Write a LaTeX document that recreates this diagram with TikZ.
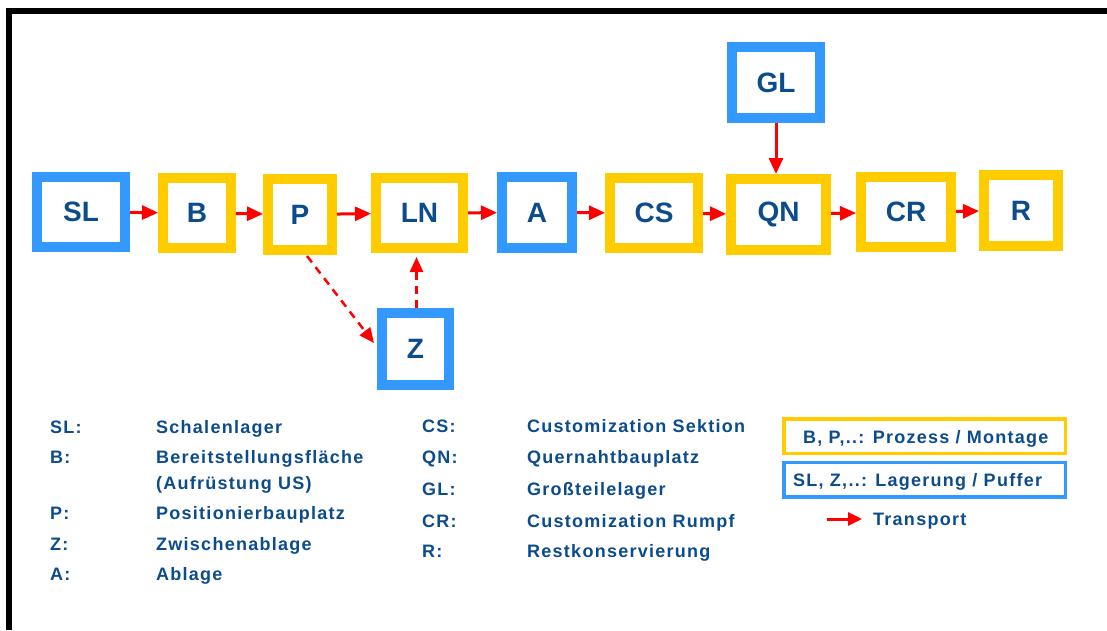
\documentclass[tikz,border=0pt]{standalone}
\usepackage{fontspec}
\setmainfont{Liberation Sans}
\newfontfamily\lgfont[LetterSpace=7]{Liberation Sans}
\usetikzlibrary{arrows.meta,calc}
\definecolor{txtblue}{RGB}{12,76,140}
\definecolor{boxblue}{RGB}{51,153,255}
\definecolor{boxyellow}{RGB}{255,204,0}
\definecolor{arrred}{RGB}{255,0,0}
\tikzset{
  stbox/.style={draw, line width=10pt, inner sep=0pt, text=txtblue,
    font=\fontsize{28}{30}\selectfont\bfseries},
  ybox/.style={stbox, draw=boxyellow},
  bbox/.style={stbox, draw=boxblue},
  flow/.style={draw=arrred, line width=3pt, -{Triangle[length=16pt,width=14pt]}},
  dflow/.style={draw=arrred, line width=2.5pt, dash pattern=on 8pt off 6pt,
    -{Triangle[length=15pt,width=13pt]}},
  lg/.style={anchor=base west, inner sep=0pt, text=txtblue,
    font=\lgfont\fontsize{18}{20}\selectfont\bfseries},
  lgbox/.style={draw, line width=3.5pt, inner sep=0pt, minimum width=281.5pt, minimum height=34.5pt}
}
\begin{document}
\begin{tikzpicture}[x=1pt,y=-1pt]
\useasboundingbox (0,0) rectangle (1107,630);
\fill[white] (0,0) rectangle (1107,630);
\draw[line width=6pt] (9,630) -- (9,11) -- (1107,11);

% process chain
\node[bbox, minimum width=88pt, minimum height=70pt] (SL) at (81,212) {SL};
\node[ybox, minimum width=68pt, minimum height=70pt] (B) at (197,213) {B};
\node[ybox, minimum width=64pt, minimum height=71pt] (P) at (300,214.5) {P};
\node[ybox, minimum width=87pt, minimum height=70pt] (LN) at (419.5,213) {LN};
\node[bbox, minimum width=70pt, minimum height=71pt] (A) at (537,212.5) {A};
\node[ybox, minimum width=88pt, minimum height=70pt] (CS) at (654,213) {CS};
\node[ybox, minimum width=95pt, minimum height=71pt] (QN) at (778.5,214.5) {QN};
\node[ybox, minimum width=90pt, minimum height=70pt] (CR) at (906,212) {CR};
\node[ybox, minimum width=74pt, minimum height=71pt] (R) at (1021,210.5) {R};
\node[bbox, minimum width=88pt, minimum height=71pt] (GL) at (776,82.5) {GL};
\node[bbox, minimum width=67pt, minimum height=72pt] (Z) at (415.5,349) {Z};

\draw[flow] (SL) -- (B);
\draw[flow] (B) -- (P);
\draw[flow] (P) -- (LN);
\draw[flow] (LN) -- (A);
\draw[flow] (A) -- (CS);
\draw[flow] (CS) -- (QN);
\draw[flow] (QN) -- (CR);
\draw[flow] (CR) -- (R);
\draw[flow] (GL.south) -- (GL.south |- QN.north);

\draw[dflow] ([xshift=7pt,yshift=-1pt]P.south) -- ([xshift=-3pt,yshift=6pt]Z.west);
\draw[dflow, shorten >=4pt] ([xshift=1pt]Z.north) -- ([xshift=1pt]Z.north |- LN.south);

% legend column 1
\node[lg] (kSL) at (50,433) {SL:};
\node[lg] (dSL) at (156,433) {Schalenlager};
\node[lg] (kB) at (50,463) {B:};
\node[lg] (dB) at (156,463) {Bereitstellungsfläche};
\node[lg] (dB2) at (156,489) {(Aufrüstung US)};
\node[lg] (kP) at (50,519) {P:};
\node[lg] (dP) at (156,519) {Positionierbauplatz};
\node[lg] (kZ) at (50,550) {Z:};
\node[lg] (dZ) at (156,550) {Zwischenablage};
\node[lg] (kA) at (50,580) {A:};
\node[lg] (dA) at (156,580) {Ablage};

% legend column 2
\node[lg] (kCS) at (422,432) {CS:};
\node[lg] (dCS) at (527,432) {Customization Sektion};
\node[lg] (kQN) at (422,463) {QN:};
\node[lg] (dQN) at (527,463) {Quernahtbauplatz};
\node[lg] (kGL) at (422,495) {GL:};
\node[lg] (dGL) at (527,495) {Großteilelager};
\node[lg] (kCR) at (422,527) {CR:};
\node[lg] (dCR) at (527,527) {Customization Rumpf};
\node[lg] (kR) at (422,557) {R:};
\node[lg] (dR) at (527,557) {Restkonservierung};

% legend boxes
\node[lgbox, draw=boxyellow] (ly) at (924.5,436) {};
\node[lg] (lyt) at (803,443) {B, P,..: Prozess / Montage};
\node[lgbox, draw=boxblue] (lb) at (924.5,479.5) {};
\node[lg] (lbt) at (793,486) {SL, Z,..: Lagerung / Puffer};
\coordinate (t1) at (827,519);
\coordinate (t2) at (862,519);
\draw[draw=arrred, line width=3pt, -{Triangle[length=14pt,width=13pt]}] (t1) -- (t2);
\node[lg] (tt) at (873,525) {Transport};
\end{tikzpicture}
\end{document}
